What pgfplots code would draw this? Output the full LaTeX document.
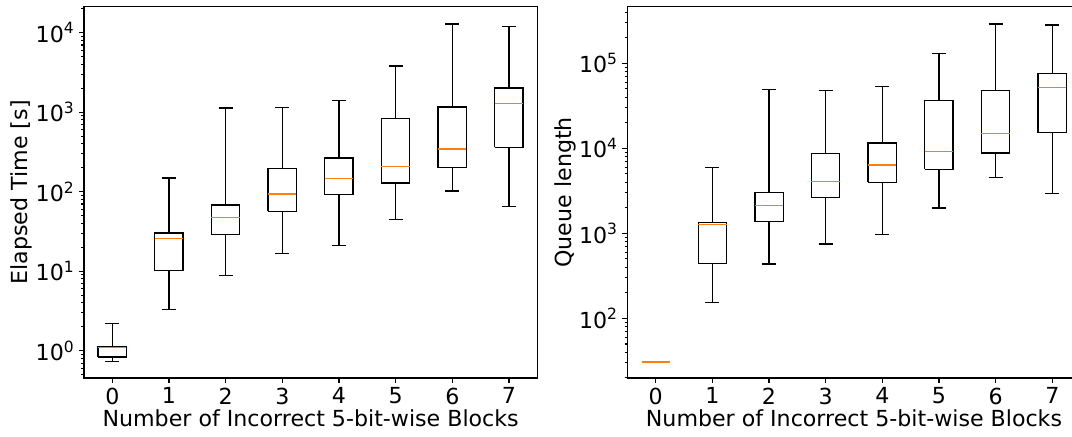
\documentclass[border=0pt]{standalone}
\usepackage{fontspec}
\setmainfont{DejaVu Sans}
\usepackage{pgfplots}
\pgfplotsset{compat=1.18}
\definecolor{mplorange}{HTML}{FF7F0E}

\pgfplotsset{
  myaxisstyle/.style={
    scale only axis, width=340pt, height=278.5pt,
    xmin=-0.5, xmax=7.5,
    xtick={0,1,2,3,4,5,6,7},
    xticklabels={0,1,2,3,4,5,6,7},
    tick align=outside, tick pos=left,
    major tick length=3.65pt, minor tick length=2.1pt,
    every tick/.style={black, line width=0.8pt},
    axis line style={line width=0.8pt},
    tick label style={font=\fontsize{16.6}{19}\selectfont},
    label style={font=\fontsize{16.6}{19}\selectfont},
    xlabel={Number of Incorrect 5-bit-wise Blocks},
    xlabel style={yshift=3pt},
    ylabel shift=-4.5pt,
    unbounded coords=jump,
  },
  boxline/.style={black, line width=1pt, line join=miter},
  medline/.style={mplorange, line width=1pt},
}

\begin{document}
\begin{tikzpicture}
\path[use as bounding box] (0,0) rectangle (804pt,327pt);
\clip (0,0) rectangle (804pt,327pt);

\begin{semilogyaxis}[myaxisstyle, at={(63pt,43.5pt)}, anchor=south west,
  ymin=0.454, ymax=21240,
  ytick={1,10,100,1000,10000},
  yticklabels={10\textsuperscript{0},10\textsuperscript{1},10\textsuperscript{2},10\textsuperscript{3},10\textsuperscript{4}},
  minor ytick={0.5,0.6,0.7,0.8,0.9,2,3,4,5,6,7,8,9,20,30,40,50,60,70,80,90,200,300,400,500,600,700,800,900,2000,3000,4000,5000,6000,7000,8000,9000,20000},
  ylabel={Elapsed Time [s]},
]
% boxes: lower quartile to upper quartile
\addplot[boxline] coordinates {
(-0.25,0.83) (0.25,0.83) (0.25,1.12) (-0.25,1.12) (-0.25,0.83) (0,nan)
(0.75,10.2) (1.25,10.2) (1.25,30.2) (0.75,30.2) (0.75,10.2) (1,nan)
(1.75,29.1) (2.25,29.1) (2.25,68) (1.75,68) (1.75,29.1) (2,nan)
(2.75,56.7) (3.25,56.7) (3.25,197) (2.75,197) (2.75,56.7) (3,nan)
(3.75,91.6) (4.25,91.6) (4.25,265) (3.75,265) (3.75,91.6) (4,nan)
(4.75,129) (5.25,129) (5.25,829) (4.75,829) (4.75,129) (5,nan)
(5.75,200) (6.25,200) (6.25,1163) (5.75,1163) (5.75,200) (6,nan)
(6.75,362) (7.25,362) (7.25,2015) (6.75,2015) (6.75,362) (7,nan)
};
% whiskers and caps
\addplot[boxline] coordinates {
(0,1.12) (0,2.19) (0,nan) (-0.125,2.19) (0.125,2.19) (0,nan) (0,0.83) (0,0.73) (0,nan) (-0.125,0.73) (0.125,0.73) (0,nan)
(1,30.2) (1,148.7) (1,nan) (0.875,148.7) (1.125,148.7) (1,nan) (1,10.2) (1,3.3) (1,nan) (0.875,3.3) (1.125,3.3) (1,nan)
(2,68) (2,1130) (2,nan) (1.875,1130) (2.125,1130) (2,nan) (2,29.1) (2,8.9) (2,nan) (1.875,8.9) (2.125,8.9) (2,nan)
(3,197) (3,1153) (3,nan) (2.875,1153) (3.125,1153) (3,nan) (3,56.7) (3,16.8) (3,nan) (2.875,16.8) (3.125,16.8) (3,nan)
(4,265) (4,1413) (4,nan) (3.875,1413) (4.125,1413) (4,nan) (4,91.6) (4,20.9) (4,nan) (3.875,20.9) (4.125,20.9) (4,nan)
(5,829) (5,3811) (5,nan) (4.875,3811) (5.125,3811) (5,nan) (5,129) (5,44.5) (5,nan) (4.875,44.5) (5.125,44.5) (5,nan)
(6,1163) (6,12860) (6,nan) (5.875,12860) (6.125,12860) (6,nan) (6,200) (6,102) (6,nan) (5.875,102) (6.125,102) (6,nan)
(7,2015) (7,12030) (7,nan) (6.875,12030) (7.125,12030) (7,nan) (7,362) (7,65.5) (7,nan) (6.875,65.5) (7.125,65.5) (7,nan)
};
% medians
\addplot[medline] coordinates {
(-0.25,1.10) (0.25,1.10) (0,nan)
(0.75,25.9) (1.25,25.9) (1,nan)
(1.75,47.6) (2.25,47.6) (2,nan)
(2.75,93.5) (3.25,93.5) (3,nan)
(3.75,147) (4.25,147) (4,nan)
(4.75,209) (5.25,209) (5,nan)
(5.75,344) (6.25,344) (6,nan)
(6.75,1279) (7.25,1279) (7,nan)
};
\end{semilogyaxis}

\begin{semilogyaxis}[myaxisstyle, at={(470.5pt,43.5pt)}, anchor=south west,
  ymin=19.9, ymax=463000,
  ytick={100,1000,10000,100000},
  yticklabels={10\textsuperscript{2},10\textsuperscript{3},10\textsuperscript{4},10\textsuperscript{5}},
  minor ytick={20,30,40,50,60,70,80,90,200,300,400,500,600,700,800,900,2000,3000,4000,5000,6000,7000,8000,9000,20000,30000,40000,50000,60000,70000,80000,90000,200000,300000,400000},
  ylabel={Queue length},
]
% boxes
\addplot[boxline] coordinates {
(-0.25,30.8) (0.25,30.8) (0.25,30.8) (-0.25,30.8) (-0.25,30.8) (0,nan)
(0.75,444) (1.25,444) (1.25,1334) (0.75,1334) (0.75,444) (1,nan)
(1.75,1368) (2.25,1368) (2.25,3033) (1.75,3033) (1.75,1368) (2,nan)
(2.75,2625) (3.25,2625) (3.25,8630) (2.75,8630) (2.75,2625) (3,nan)
(3.75,3981) (4.25,3981) (4.25,11530) (3.75,11530) (3.75,3981) (4,nan)
(4.75,5663) (5.25,5663) (5.25,36300) (4.75,36300) (4.75,5663) (5,nan)
(5.75,8810) (6.25,8810) (6.25,47600) (5.75,47600) (5.75,8810) (6,nan)
(6.75,15270) (7.25,15270) (7.25,75500) (6.75,75500) (6.75,15270) (7,nan)
};
% whiskers and caps
\addplot[boxline] coordinates {
(-0.125,30.8) (0.125,30.8) (0,nan)
(1,1334) (1,5915) (1,nan) (0.875,5915) (1.125,5915) (1,nan) (1,444) (1,155) (1,nan) (0.875,155) (1.125,155) (1,nan)
(2,3033) (2,48900) (2,nan) (1.875,48900) (2.125,48900) (2,nan) (2,1368) (2,435) (2,nan) (1.875,435) (2.125,435) (2,nan)
(3,8630) (3,47600) (3,nan) (2.875,47600) (3.125,47600) (3,nan) (3,2625) (3,748) (3,nan) (2.875,748) (3.125,748) (3,nan)
(4,11530) (4,53600) (4,nan) (3.875,53600) (4.125,53600) (4,nan) (4,3981) (4,964) (4,nan) (3.875,964) (4.125,964) (4,nan)
(5,36300) (5,131000) (5,nan) (4.875,131000) (5.125,131000) (5,nan) (5,5663) (5,1985) (5,nan) (4.875,1985) (5.125,1985) (5,nan)
(6,47600) (6,289500) (6,nan) (5.875,289500) (6.125,289500) (6,nan) (6,8810) (6,4560) (6,nan) (5.875,4560) (6.125,4560) (6,nan)
(7,75500) (7,282500) (7,nan) (6.875,282500) (7.125,282500) (7,nan) (7,15270) (7,2926) (7,nan) (6.875,2926) (7.125,2926) (7,nan)
};
% medians
\addplot[medline] coordinates {
(-0.25,30.8) (0.25,30.8) (0,nan)
(0.75,1262) (1.25,1262) (1,nan)
(1.75,2113) (2.25,2113) (2,nan)
(2.75,4046) (3.25,4046) (3,nan)
(3.75,6365) (4.25,6365) (4,nan)
(4.75,9226) (5.25,9226) (5,nan)
(5.75,14860) (6.25,14860) (6,nan)
(6.75,52200) (7.25,52200) (7,nan)
};
\end{semilogyaxis}
\end{tikzpicture}
\end{document}
